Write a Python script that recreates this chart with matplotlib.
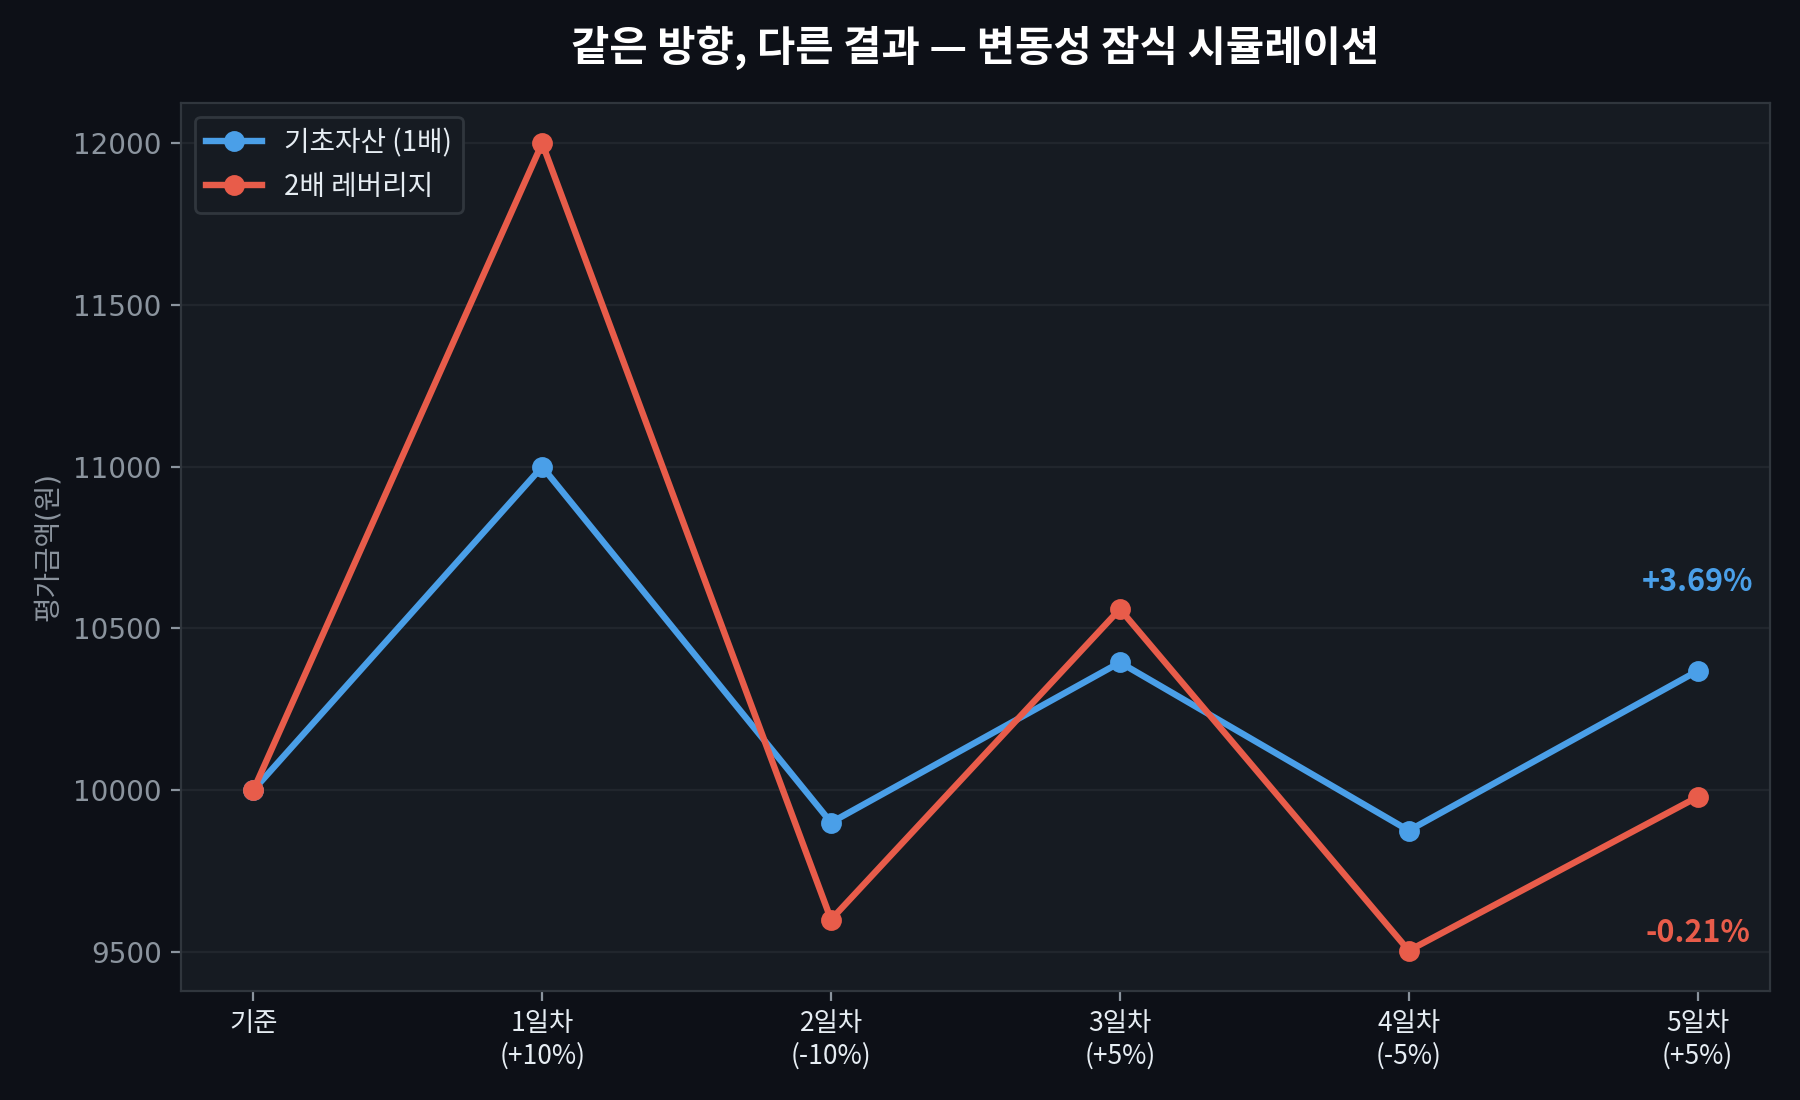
import matplotlib
matplotlib.use("Agg")
import matplotlib.pyplot as plt

plt.rcParams['font.family'] = ['DejaVu Sans', 'Noto Sans CJK KR']

# data
days = ['기준', '1일차\n(+10%)', '2일차\n(-10%)', '3일차\n(+5%)', '4일차\n(-5%)', '5일차\n(+5%)']
base_1x = [10000, 11000, 9900, 10395, 9875.25, 10369.01]
lev_2x = [10000, 12000, 9600, 10560, 9504, 9979.2]
ret_1x = '+3.69%'
ret_2x = '-0.21%'

BG = '#0d1017'
AX_BG = '#161b22'
EDGE = '#30363d'
GRID = '#21262d'
BLUE = '#4a9fe8'
RED = '#e85c4a'
MUTED = '#8b949e'
TEXT = '#e6edf3'

fig = plt.figure(figsize=(9, 5.5), dpi=200, facecolor=BG)
ax = fig.add_axes([0.1006, 0.0991, 0.8827, 0.8073])
ax.set_facecolor(AX_BG)

x = list(range(len(days)))
ax.plot(x, base_1x, color=BLUE, lw=2.3, marker='o', markersize=6.5, label='기초자산 (1배)', zorder=3)
ax.plot(x, lev_2x, color=RED, lw=2.3, marker='o', markersize=6.5, label='2배 레버리지', zorder=3)

# final return labels
ax.annotate(ret_1x, (x[-1], base_1x[-1]), xytext=(0, 32), textcoords='offset points',
            ha='center', va='center', color=BLUE, fontsize=11, fontweight='bold',
            family=['Noto Sans CJK KR'])
ax.annotate(ret_2x, (x[-1], lev_2x[-1]), xytext=(0, -49), textcoords='offset points',
            ha='center', va='center', color=RED, fontsize=11, fontweight='bold',
            family=['Noto Sans CJK KR'])

ax.set_xticks(x)
ax.set_xticklabels(days, family=['Noto Sans CJK KR'], fontsize=9.5, color=TEXT, linespacing=1.25)
ax.set_yticks([9500, 10000, 10500, 11000, 11500, 12000])
ax.tick_params(axis='y', colors=MUTED, labelsize=10)
ax.tick_params(axis='x', colors=MUTED, labelcolor=TEXT)
ax.grid(axis='y', color=GRID, lw=0.8)
ax.set_axisbelow(True)
for s in ax.spines.values():
    s.set_color(EDGE)
    s.set_linewidth(0.8)

ax.set_ylabel('평가금액(원)', color=MUTED, fontsize=10)
ax.set_title('같은 방향, 다른 결과 — 변동성 잠식 시뮬레이션', color='white', fontsize=15,
             fontweight='bold', family=['Noto Sans CJK KR'], pad=15)

leg = ax.legend(loc='upper left', facecolor=AX_BG, edgecolor=EDGE, framealpha=1,
                prop={'family': ['Noto Sans CJK KR'], 'size': 10})
for t in leg.get_texts():
    t.set_color(TEXT)

fig.savefig('out.png', dpi=200, facecolor=BG)
